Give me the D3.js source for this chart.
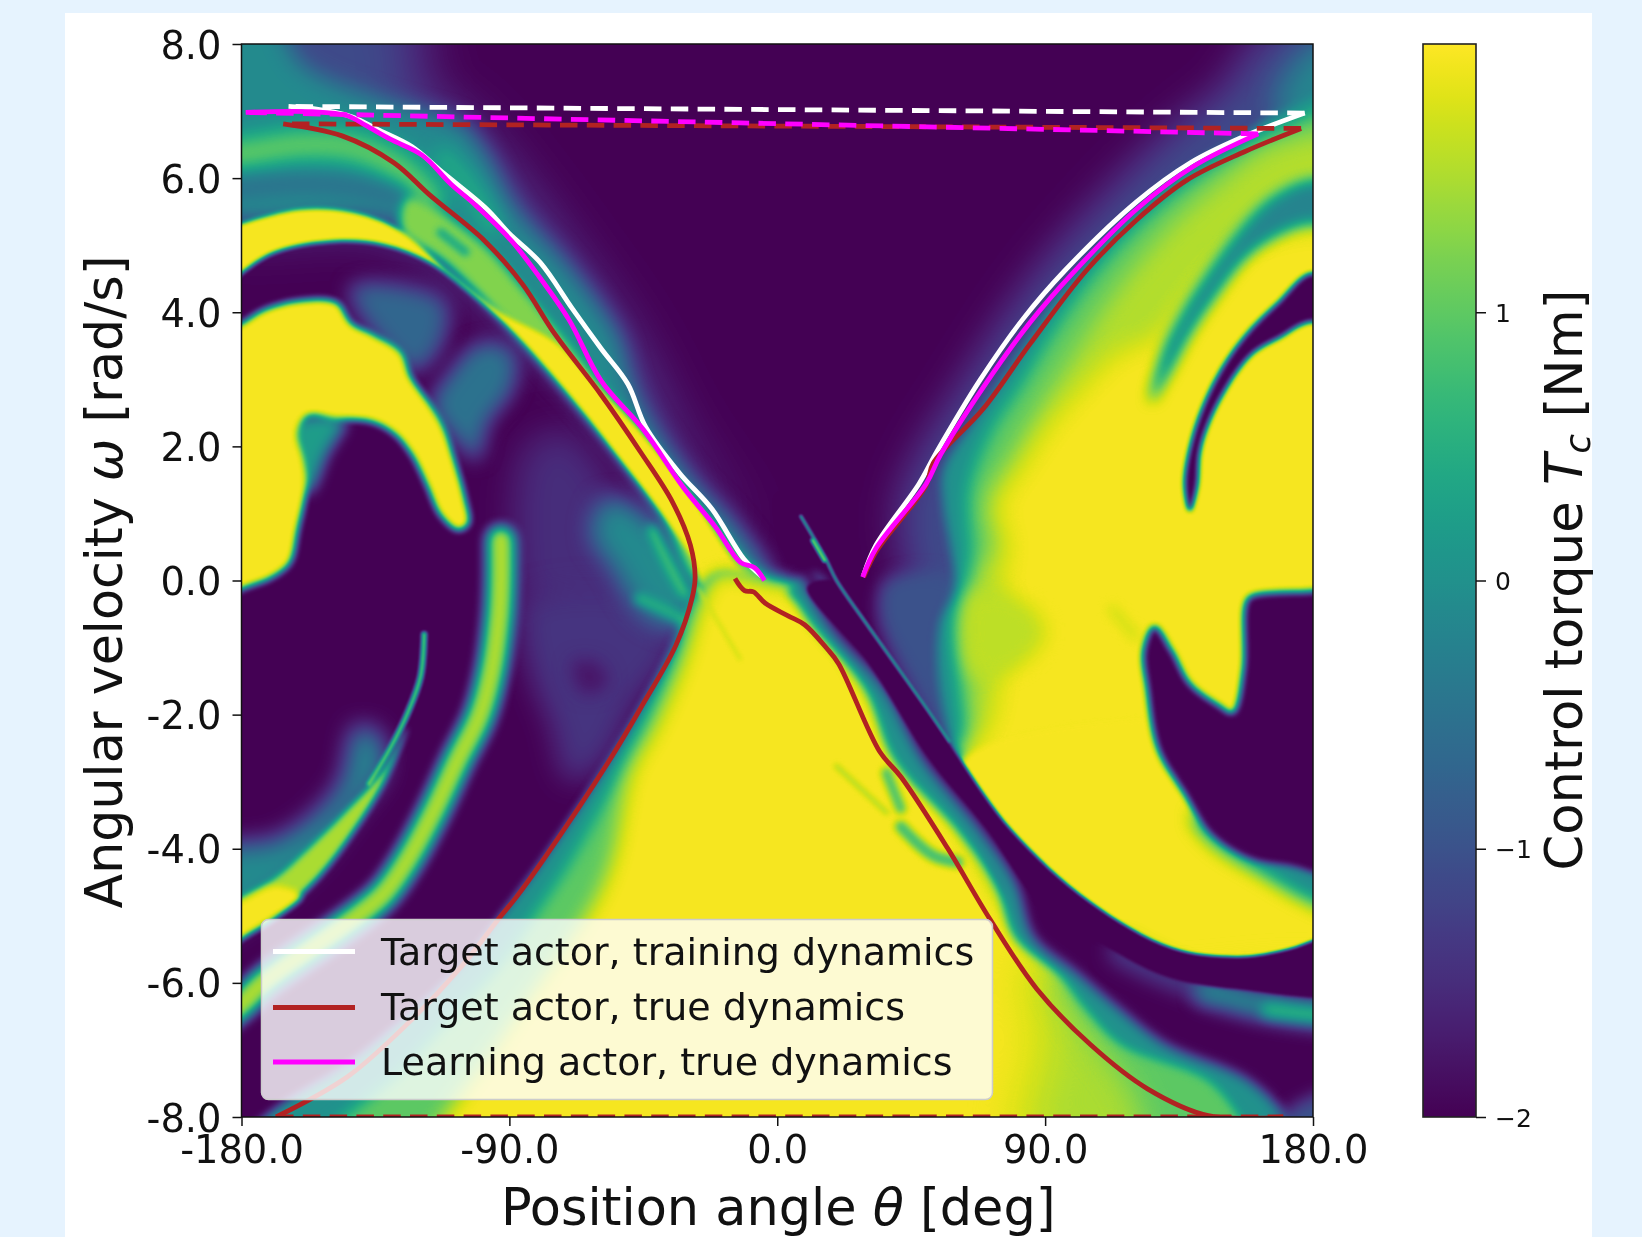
<!DOCTYPE html>
<html><head><meta charset="utf-8">
<script src="https://d3js.org/d3.v7.min.js"></script>
<style>
html,body{margin:0;padding:0;background:#e6f3fe;width:1642px;height:1237px;overflow:hidden}
#panel{position:absolute;left:65px;top:13px;width:1527px;height:1224px;background:#fff}
svg{position:absolute;left:0;top:0;filter:blur(0.6px)}
text{font-family:"DejaVu Sans";fill:#111}
</style></head><body><div id="panel"></div><svg id="chart" width="1642" height="1237"></svg>
<script>
// ---------- axis data ----------
const thetaTicks=[-180,-90,0,90,180];
const thetaTickLabels=["-180.0","-90.0","0.0","90.0","180.0"];
const omegaTicks=[8,6,4,2,0,-2,-4,-6,-8];
const omegaTickLabels=["8.0","6.0","4.0","2.0","0.0","-2.0","-4.0","-6.0","-8.0"];
const torqueTicks=[-2,-1,0,1];
const torqueTickLabels=["\u22122","\u22121","0","1"];
const legendLabels=["Target actor, training dynamics","Target actor, true dynamics","Learning actor, true dynamics"];

// ---------- trajectories [theta deg, omega rad/s] ----------
const whiteA=[[-164.2,7.07],[-156.4,7.04],[-143.2,6.92],[-133.6,6.71],[-122.8,6.47],[-112,6.07],[-97.6,5.54],[-90.4,5.19],[-79.6,4.74],[-68.8,4.05],[-59.2,3.46],[-50.2,2.93],[-44.2,2.29],[-32.8,1.6],[-22,1.07],[-11.2,0.32],[-5.2,0.06]];
const whiteB=[[29,0.08],[33.2,0.53],[47.6,1.44],[53.6,1.92],[68,2.98],[82.4,3.89],[96.8,4.63],[120.8,5.65],[138.8,6.23],[155.6,6.6],[177.2,6.97]];
const whiteDash=[[177.2,6.97],[-164.2,7.07]];
const redA=[[-166,6.81],[-146.2,6.63],[-128.8,6.23],[-116.8,5.75],[-98.2,5.06],[-85.6,4.42],[-74.8,3.68],[-59.2,2.77],[-46,1.92],[-35.2,1.17],[-29.2,0.53],[-27.6,0.05],[-28.6,-0.26],[-34,-0.96],[-46,-1.91],[-56.8,-2.71],[-78.4,-4.15],[-88,-4.74],[-92.8,-5],[-106,-5.75],[-124,-6.6],[-144.4,-7.4],[-168.4,-8]];
const redB=[[170,-8],[144.8,-7.98],[124.4,-7.58],[105.2,-6.92],[87.2,-6.09],[71.6,-5.06],[57.2,-3.99],[41.6,-2.93],[34.4,-2.55],[20.6,-1.24],[16.4,-1],[9.2,-0.66],[3.8,-0.53],[-4,-0.34],[-8,-0.17],[-11,-0.15],[-14.2,0.03]];
const redC=[[29,0.05],[33.5,0.45],[50,1.42],[52.4,1.75],[69.2,2.56],[84.8,3.52],[104,4.63],[120.8,5.38],[137.6,5.97],[156.8,6.39],[176,6.74]];
const redDashTop=[[176,6.74],[-166,6.81]];
const redDashBottom=[[-168.4,-8],[170,-8]];
const magentaA=[[-178.6,6.98],[-156.4,6.99],[-144.4,6.93],[-138.4,6.79],[-130,6.58],[-119.2,6.34],[-109.6,5.91],[-101.2,5.59],[-89.2,5.06],[-80.8,4.58],[-70,3.89],[-59.2,2.98],[-44.8,2.24],[-31.6,1.39],[-20.8,0.8],[-12.4,0.27],[-7.6,0.19],[-4.3,0]];
const magentaB=[[28.7,0.05],[33.2,0.48],[50,1.44],[54.8,1.87],[69.2,2.88],[84.8,3.84],[99.2,4.58],[120.8,5.54],[140,6.18],[161.6,6.66]];
const magentaDash=[[161.6,6.66],[-178.6,6.98]];

// ---------- control-torque field outlines [theta, omega] ----------
const haloWide=[[-195,8.6],[-122,8.6],[-122,7.4],[-105,6.8],[-90,6],[-70,4.8],[-50,3.5],[-35,2.2],[-10,0.6],[-60,2.8],[-90,4],[-130,5.3],[-195,5.5]];
const haloNear=[[-195,8.6],[-172,8.6],[-160,7.7],[-135,7.2],[-120,7],[-106,6.8],[-97.6,6.34],[-88,5.54],[-72.4,4.79],[-59.2,4.05],[-53.2,3.62],[-48.4,2.88],[-41.2,2.29],[-28,1.49],[-13.6,0.8],[-2.8,0],[-16,-0.15],[-64,2.6],[-124,5.3],[-195,5.6]];
const greenBandL=[[-195,6.3],[-180,6.37],[-160,6.5],[-142,6.45],[-126.4,6.13],[-116.8,5.7]];
const tealPatchL=[[-112,6.3],[-104,5.9],[-96,5.3]];
const blueBandL=[[-195,5.78],[-180,5.85],[-160,5.91],[-142,5.86],[-127.6,5.7]];
const ygWedge=[[-124,5.7],[-100,5.06],[-85.6,4.37],[-73.6,3.73],[-59.2,2.93],[-44.8,2.19],[-31.6,1.39],[-12.4,0.37],[-4,-0.15],[-24.4,-0.15],[-40,1.07],[-64,2.45],[-88,3.68],[-112,4.74],[-126.4,5.22]];
const tealStreak=[[-113,5.19],[-104.8,4.9]];
const crescentL=[[-195,5.1],[-180,5.33],[-160,5.54],[-142,5.49],[-126.4,5.22],[-109.6,4.58],[-92.8,4],[-73.6,3.52],[-59.2,2.82],[-48.4,2.34],[-29.2,1.28],[-16,0.37],[-7.6,-0.15],[-4,-0.85],[-23,-0.15],[-29.2,0.37],[-40,1.07],[-52,1.76],[-64,2.45],[-76,3.09],[-88,3.68],[-102.4,4.26],[-116.8,4.74],[-132,5],[-148,5.06],[-168.4,4.9],[-180,4.58],[-195,3.9]];
const blobL=[[-195,3.5],[-180,3.84],[-172,4.05],[-160,4.18],[-148,4.15],[-143,3.84],[-136,3.68],[-126.4,3.41],[-123,3.04],[-117,2.66],[-112,2.29],[-108.4,1.81],[-104.8,1.23],[-103.6,0.85],[-107.2,0.75],[-113,0.96],[-118,1.44],[-122.8,1.87],[-128.8,2.19],[-137,2.37],[-148,2.4],[-157.6,2.45],[-161,2.2],[-159,1.8],[-158,1.44],[-161,0.75],[-163.6,0.27],[-169.6,0.05],[-180,-0.13],[-195,-0.4]];
const patchA=[[-143,4.37],[-112,4.16],[-113,3.52],[-121.6,3.14],[-136,3.73]];
const patchB=[[-115.6,2.61],[-109.6,3.09],[-100,3.52],[-89,3.41],[-89,2.88],[-97.6,2.34],[-101,1.81],[-107,2.08]];
const patchC=[[-84,2],[-70,2.2],[-50,1],[-42,0.6],[-35,-0.3],[-60,-0.5],[-84,-0.3],[-88,0.5]];
const patchBlob=[[-163.6,2.34],[-145.6,2.4],[-151.6,1.87],[-157.6,1.33],[-164,1.55]];
const fanTeal=[[-57,1.2],[-40,0.8],[-26,-0.1],[-32,-0.7],[-45,-0.5],[-55,0.2],[-62,0.7]];
const fanStripe=[[-42,0.75],[-36,0.2],[-31,-0.2]];
const fanArrow=[[-46,-0.27],[-35,-0.5],[-28.5,-0.69]];
const indigoMid=[[-84.4,-0.32],[-48.4,-0.21],[-34,-0.9],[-48.4,-1.86],[-58,-2.66],[-70,-2.98],[-76,-2.13],[-81,-1.6],[-85.6,-0.8]];
const purpleSpot=[[-68.8,-1.22],[-60.4,-1.22],[-56.8,-1.54],[-65,-1.7]];
const ridgeL=[[-92.8,0.6],[-92.8,0],[-93.4,-0.53],[-95.8,-1.33],[-100,-2.02],[-107.2,-2.66],[-115.6,-3.46],[-124,-4.15],[-132.4,-4.68],[-144.4,-5.11],[-173,-6.01],[-180,-6.31],[-195,-6.8]];
const stripeHalo=[[-195,-4.1],[-180,-3.95],[-169.6,-3.9],[-156.4,-3.55],[-146,-3],[-141,-2.2],[-134.8,-2.29],[-132.4,-2.77],[-142,-3.4],[-157.6,-4.26],[-172,-4.8],[-180,-5.06],[-195,-5.4]];
const stripeThin=[[-118.6,-0.8],[-119.8,-1.43],[-124,-1.96],[-130,-2.5],[-137.2,-3.03]];
const stripeWide=[[-195,-5.75],[-180,-5.32],[-168.4,-5],[-154,-4.42],[-142,-3.72],[-132.4,-3.03],[-124.5,-2.2],[-132,-2.8],[-145.6,-3.46],[-156.4,-3.94],[-168.4,-4.42],[-180,-4.72],[-195,-5.1]];
const stripeEnd=[[-195,-5.75],[-180,-5.32],[-168.4,-5],[-160,-4.7],[-168.4,-4.55],[-180,-4.78],[-195,-5.1]];
const closeLow=[[-20,0.1],[-5,0],[10,-0.2],[30,-1.5],[60,-3.5],[100,-6],[195,-7],[195,-9.2]];
const lowTeal=[[-190,-8.9],[-172,-8],[-143,-7.18],[-124,-6.49],[-106,-5.75],[-92.8,-5],[-78.4,-4.15],[-56.8,-2.71],[-46,-1.91],[-34,-0.96],[-28,-0.26]];
const lowGreen=[[-170,-9],[-145.6,-8],[-126.4,-7.29],[-112,-6.6],[-94,-5.75],[-82,-5],[-70,-4.2],[-53.2,-2.87],[-43.6,-2.07],[-32.8,-1.06],[-26.8,-0.32]];
const lowYellow=[[-125,-9],[-112,-8],[-97.6,-7.13],[-84.4,-6.28],[-72.4,-5.53],[-61.6,-4.79],[-55.6,-4.15],[-49.6,-2.87],[-41.2,-2.18],[-31.6,-1.17],[-25.6,-0.32]];
const fringeR=[[195,8.6],[160.4,8],[152,7.4],[132.8,6.71],[108.8,5.65],[90.8,4.74],[77.6,3.94],[60.8,2.77],[48.8,1.92],[42,1.2],[41.6,0.75],[45,-0.15],[44,-1.2],[60.8,-2.61],[195,-2.7]];
const wedgeBlue=[[36.8,0],[60.8,0],[60.8,-2.2],[59.6,-2.45],[48.8,-1.76],[34.4,-0.53]];
const tealCorner=[[195,8.1],[178,7.9],[168,7],[195,6.4]];
const tealR=[[195,7.3],[170,7],[165.2,6.9],[155.6,6.55],[138.8,6.13],[120.8,5.49],[105.2,4.79],[90.8,4],[77.6,3.14],[65.6,2.34],[56,1.65],[56,1.12],[58.4,0.48],[60,-0.15],[55,-0.6],[54,-1.3],[58,-2.3],[60.8,-2.5],[195,-2.6]];
const greenR=[[195,7.1],[168.8,6.7],[156.8,6.44],[138.8,5.96],[120.8,5.3],[106.4,4.6],[93.2,3.78],[81.2,2.9],[71.6,2.24],[64.4,1.39],[64.4,0.75],[65.6,-0.15],[61.4,-0.53],[62,-1.6],[63.2,-2.34],[61,-2.66],[195,-2.7]];
const ygR=[[195,6.55],[166.4,6.5],[150.8,6.03],[132.8,5.33],[114.8,4.4],[100.4,3.45],[88.4,2.6],[77.6,1.76],[70.4,1.12],[72.8,0.53],[65.6,0.05],[62,-0.8],[65.6,-1.86],[65.6,-2.45],[62,-2.7],[195,-2.8]];
const yellowR=[[195,5.1],[156.8,5],[141.2,4.37],[126.8,3.62],[114.8,3.4],[102.8,2.88],[92,2.34],[82.4,1.7],[74,1.12],[77.6,0.48],[75,0.05],[80,-0.69],[75,-1.33],[71.6,-2.13],[65.6,-2.5],[62,-2.8],[195,-2.8]];
const ygPatchR=[[65,-0.2],[85,-0.4],[90,-0.8],[80,-1.3],[66,-1.4]];
const crescentR=[[62,-2.7],[195,-2.5],[195,-5.8],[100,-5.4],[75,-3.9]];
const tealBandR=[[195,5.85],[180,5.97],[166.4,5.7],[155.6,5.22],[144.8,4.58],[136.4,4],[129.8,3.41],[125.6,2.66],[131.6,3.09],[138.8,3.68],[148.4,4.31],[158,4.84],[168.8,5.17],[180,5.33],[195,5.2]];
const purpleArc=[[195,4.2],[180,4.58],[168.8,4.16],[156.8,3.62],[147.2,2.98],[140,2.19],[137,1.44],[138.8,1.04],[141.2,1.39],[142.4,1.97],[148.4,2.66],[159.2,3.36],[168.8,3.62],[180,3.86],[195,3.6]];
const blobFringeR=[[195,-5],[180,-4.79],[162.8,-4.36],[146,-3.88],[140,-3.5],[160,-3.6],[195,-4]];
const purpleBlobR=[[195,-0.1],[180,-0.16],[159.2,-0.24],[157.4,-0.37],[156.8,-1.33],[153.2,-1.97],[148.4,-1.86],[138.8,-1.54],[132.8,-1.06],[126.8,-0.69],[123.2,-1.06],[124.4,-1.6],[128,-2.5],[136.4,-3.14],[146,-3.78],[159.2,-4.15],[172.4,-4.26],[195,-4.4]];
const brYellowGreen=[[84.8,-5.85],[89.6,-6.65],[87.2,-7.45],[82.4,-8.3],[195,-8.7],[195,-6.3],[120,-6.2],[95,-5.6]];
const brGreen=[[94.4,-5.85],[104,-6.65],[116,-7.35],[123,-8],[125.6,-8.5],[195,-8.7],[195,-6.3],[125,-6.1],[100,-5.8]];
const bandFringe=[[4,-0.15],[7,-0.35],[12.2,-0.69],[29.6,-1.6],[39.2,-2.66],[60.8,-3.72],[74,-4.52],[80,-5.32],[94.4,-5.85],[104,-6.39],[116,-6.92],[144.8,-7.45],[155.6,-8],[165,-8.8],[195,-8.8],[195,-5.5],[154,-5.85],[105,-5.1],[79,-4],[61,-2.95],[31,-0.95],[20,-0.25],[12,0.1]];
const bandSoft=[[3,1.2],[7,0.2],[17.6,-0.69],[35.6,-1.6],[48.8,-2.66],[68,-3.72],[80,-4.52],[86,-5.32],[100.4,-5.85],[114.8,-6.39],[130.4,-6.92],[158,-7.45],[171,-8],[180,-8.7],[195,-8.7],[195,-5.5],[154,-5.85],[105,-5.1],[79,-4],[61,-2.95],[31,-0.95],[20,-0.25],[12,0.2]];
const lowStripeRight=[[195,-6.5],[180,-6.45],[162.8,-6.33],[144.8,-6.12]];
const lowStripeLeft=[[144.8,-6.12],[126.8,-5.8],[114.8,-5.53]];
const lowStripeCore=[[195,-6.5],[180,-6.47],[165,-6.4]];
const bandCore=[[20,0],[30.8,-0.69],[48.8,-1.81],[60.8,-2.61],[78.8,-3.72],[105.2,-4.79],[132.8,-5.48],[154.4,-5.61],[168.8,-5.53],[180,-5.37],[195,-5.05],[195,-6.1],[154,-6.1],[130,-5.9],[110,-5.45],[90,-4.9],[70,-3.7],[50,-2.6],[30,-1.2],[10,-0.1]];
const sliver=[[8,0.96],[16.4,0.32],[20,0],[30.8,-0.69],[48.8,-1.81],[58,-2.4]];
const sliverTip=[[12,0.6],[16,0.3]];
const paleA=[[20,-2.77],[36.8,-3.46]];
const paleB=[[36.8,-2.87],[41.6,-3.4]];
const paleC=[[41.6,-3.67],[52.4,-4.1],[60.8,-4.2]];
const paleD=[[-26.8,-0.1],[-12.4,-1.17]];
const paleE=[[112.4,-0.42],[120.8,-0.85]];
const cornerBR=[[165,-8.6],[172,-7.9],[195,-7.6],[195,-8.6]];

// ---------- layout ----------
const L=241.5,R=1313,T=44,B=1117;
const x=d3.scaleLinear().domain([-180,180]).range([L,R]);
const y=d3.scaleLinear().domain([-8,8]).range([B,T]);
const torqueY=d3.scaleLinear().domain([-2,2]).range([B,T]);
const viridis=d3.scaleSequential(d3.interpolateViridis).domain([-2,2]);
const gray=d3.scaleLinear().domain([-2,2]).range([0,255]);

// paint order: [outline, torque value, blur px, stroke px (0 = filled)]
const layers=[
 [haloWide,-1.1,28,0],[haloNear,-0.1,11,0],[patchC,-1.5,18,0],[indigoMid,-1.4,14,0],[purpleSpot,-1.8,9,0],
 [fanTeal,-0.1,12,0],[fanStripe,0.9,5,10],[fanArrow,0.5,4,12],
 [patchA,-0.7,10,0],[patchB,-0.5,10,0],[patchBlob,0.2,7,0],
 [greenBandL,1.1,11,30],[tealPatchL,0.45,9,20],[blueBandL,-0.5,8,20],
 [ygWedge,1.25,5,0],[tealStreak,0.4,3,8],[crescentL,1.95,2.2,0],[blobL,1.95,3,0],
 [ridgeL,1.5,6,28],
 [stripeHalo,-0.1,12,0],[stripeThin,0.9,1.5,5],[stripeWide,1.5,3,0],[stripeEnd,1.95,3,0],
 [fringeR,-1.1,20,0],[wedgeBlue,-1,8,0],[tealCorner,-0.2,14,0],[tealR,0,5,0],[greenR,1,9,0],[ygR,1.55,12,0],[yellowR,1.95,13,0],[ygPatchR,1.6,9,0],[paleE,1.6,6,6],
 [tealBandR,-0.2,7,0],[purpleArc,-2,2.5,0],
 [lowTeal.concat(closeLow),0,4,0],[lowGreen.concat(closeLow),1,8,0],[lowYellow.concat(closeLow),1.95,10,0],[crescentR,1.95,3,0],
 [blobFringeR,-0.1,9,0],[purpleBlobR,-2,3,0],
 [brYellowGreen,1.5,24,0],[brGreen,1,15,0],
 [paleA,1.55,2.5,5],[paleB,0.9,3,10],[paleC,0.8,3,11],[paleD,1.7,2,3],
 [bandFringe,0,5,0],[bandSoft,-2,6,0],[lowStripeLeft,-1.2,10,20],[lowStripeRight,-0.2,9,26],[lowStripeCore,0.6,6,14],
 [bandCore,-2,1.8,0],[sliver,0.45,1,2.2],[sliverTip,1.1,1,4],[cornerBR,-1,8,0]
];

// ---------- field: paint scalar outlines on a canvas, map through viridis ----------
const W=Math.round(R-L),H=Math.round(B-T);
const cv=document.createElement("canvas");cv.width=W;cv.height=H;
const ctx=cv.getContext("2d",{willReadFrequently:true});
const g0=Math.round(gray(-2));
ctx.fillStyle=`rgb(${g0},${g0},${g0})`;ctx.fillRect(0,0,W,H);
ctx.translate(-L,-T);ctx.lineCap="round";ctx.lineJoin="round";
const closedPath=d3.line().x(d=>x(d[0])).y(d=>y(d[1])).curve(d3.curveCatmullRomClosed.alpha(0.5)).context(ctx);
const openPath=d3.line().x(d=>x(d[0])).y(d=>y(d[1])).curve(d3.curveCatmullRom.alpha(0.5)).context(ctx);
layers.forEach(([pts,v,blur,stroke])=>{
  const g=Math.round(gray(v)),c=`rgb(${g},${g},${g})`;
  ctx.filter=`blur(${blur}px)`;ctx.beginPath();
  if(stroke){openPath(pts);ctx.strokeStyle=c;ctx.lineWidth=stroke;ctx.stroke();}
  else{closedPath(pts);ctx.fillStyle=c;ctx.fill();}
});
ctx.filter="none";ctx.setTransform(1,0,0,1,0,0);
const img=ctx.getImageData(0,0,W,H),lut=d3.range(256).map(i=>d3.rgb(viridis(gray.invert(i))));
for(let i=0;i<img.data.length;i+=4){const c=lut[img.data[i]];img.data[i]=c.r;img.data[i+1]=c.g;img.data[i+2]=c.b;img.data[i+3]=255;}
ctx.putImageData(img,0,0);

// ---------- svg ----------
const svg=d3.select("#chart");
const defs=svg.append("defs");
defs.append("clipPath").attr("id","plotClip").append("rect").attr("x",L).attr("y",T).attr("width",R-L).attr("height",B-T);
svg.append("image").attr("x",L).attr("y",T).attr("width",R-L).attr("height",B-T).attr("preserveAspectRatio","none").attr("href",cv.toDataURL());

const lines=svg.append("g").attr("clip-path","url(#plotClip)").attr("fill","none").attr("stroke-linejoin","round");
const solid=d3.line().x(d=>x(d[0])).y(d=>y(d[1])).curve(d3.curveCatmullRom.alpha(0.5));
const straight=d3.line().x(d=>x(d[0])).y(d=>y(d[1]));
const WHITE="#ffffff",RED="#b22222",MAG="#ff00ff",LW=4.8;
function drawSolid(d,c,w){lines.append("path").attr("d",solid(d)).attr("stroke",c).attr("stroke-width",w);}
function drawDash(d,c,w){lines.append("path").attr("d",straight(d)).attr("stroke",c).attr("stroke-width",w).attr("stroke-dasharray","17.5,9.3");}
drawSolid(whiteA,WHITE,LW);drawSolid(whiteB,WHITE,LW);drawDash(whiteDash,WHITE,LW);
drawSolid(redA,RED,LW);drawSolid(redB,RED,LW);drawSolid(redC,RED,LW);drawDash(redDashTop,RED,LW);drawDash(redDashBottom,RED,LW);
drawSolid(magentaA,MAG,LW);drawSolid(magentaB,MAG,LW);drawDash(magentaDash,MAG,LW);

// axes
const axFont=38.4,lgFont=38;
svg.append("rect").attr("x",L).attr("y",T).attr("width",R-L).attr("height",B-T).attr("fill","none").attr("stroke","#111").attr("stroke-width",1.5);
const ax=svg.append("g").attr("transform",`translate(0,${B})`).call(d3.axisBottom(x).tickValues(thetaTicks).tickFormat((d,i)=>thetaTickLabels[i]).tickSize(9).tickPadding(8));
const ay=svg.append("g").attr("transform",`translate(${L},0)`).call(d3.axisLeft(y).tickValues(omegaTicks).tickFormat((d,i)=>omegaTickLabels[i]).tickSize(9).tickPadding(12));
[ax,ay].forEach(a=>{a.select(".domain").remove();a.selectAll("line").attr("stroke","#111").attr("stroke-width",1.5);a.selectAll("text").attr("font-size",axFont).attr("fill","#111").attr("font-family","DejaVu Sans");});
ay.selectAll("text").attr("x",-20).attr("y",0).attr("dy","14");
ax.selectAll("text").attr("dy",null).attr("y",46);

// axis titles
const xt=svg.append("text").attr("x",(L+R)/2+1).attr("y",1225).attr("text-anchor","middle").attr("font-size",50.9);
xt.append("tspan").text("Position angle ");xt.append("tspan").attr("font-style","italic").text("\u03b8");xt.append("tspan").text(" [deg]");
const yt=svg.append("text").attr("transform","translate(122,582) rotate(-90)").attr("text-anchor","middle").attr("font-size",50.7);
yt.append("tspan").text("Angular velocity ");yt.append("tspan").attr("font-style","italic").text("\u03c9");yt.append("tspan").text(" [rad/s]");

// colour bar
const CL=1423,CR=1476;
const grad=defs.append("linearGradient").attr("id","cbar").attr("x1",0).attr("y1",1).attr("x2",0).attr("y2",0);
d3.range(0,1.0001,1/40).forEach(t=>grad.append("stop").attr("offset",t).attr("stop-color",viridis(-2+4*t)));
svg.append("rect").attr("x",CL).attr("y",T).attr("width",CR-CL).attr("height",B-T).attr("fill","url(#cbar)").attr("stroke","#222").attr("stroke-width",1.6);
const ac=svg.append("g").attr("transform",`translate(${CR},0)`).call(d3.axisRight(torqueY).tickValues(torqueTicks).tickFormat((d,i)=>torqueTickLabels[i]).tickSize(10).tickPadding(9));
ac.select(".domain").remove();ac.selectAll("line").attr("stroke","#111").attr("stroke-width",1.5);
ac.selectAll("text").attr("font-size",25).attr("fill","#111").attr("font-family","DejaVu Sans").attr("y",0).attr("dy","9");
const ct=svg.append("text").attr("transform","translate(1582,580) rotate(-90)").attr("text-anchor","middle").attr("font-size",51.2);
ct.append("tspan").text("Control torque ");ct.append("tspan").attr("font-style","italic").text("T");
ct.append("tspan").attr("font-style","italic").attr("font-size",36).attr("dy",8).text("c");
ct.append("tspan").attr("dy",-8).text(" [Nm]");

// legend
const lg=svg.append("g");
lg.append("rect").attr("x",261.5).attr("y",919.5).attr("width",731).attr("height",180).attr("rx",7).attr("fill","#fff").attr("fill-opacity",0.8).attr("stroke","#ccc").attr("stroke-width",1.5);
const lgY=[951.5,1007.5,1062],lgB=[964.5,1020,1075],lgC=[WHITE,RED,MAG];
legendLabels.forEach((s,i)=>{
  lg.append("line").attr("x1",273).attr("x2",355).attr("y1",lgY[i]).attr("y2",lgY[i]).attr("stroke",lgC[i]).attr("stroke-width",LW);
  lg.append("text").attr("x",381).attr("y",lgB[i]).attr("font-size",lgFont).text(s);
});
</script></body></html>
